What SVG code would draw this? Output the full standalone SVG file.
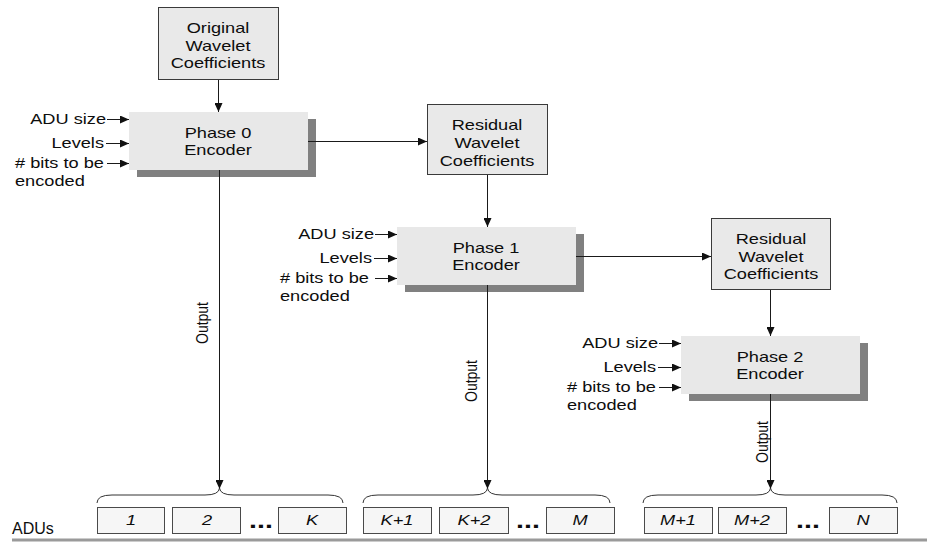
<svg xmlns="http://www.w3.org/2000/svg" width="927" height="542" viewBox="0 0 927 542">
<defs>
<marker id="ah" markerWidth="9" markerHeight="8" refX="9" refY="4" orient="auto" markerUnits="userSpaceOnUse"><path d="M0,0 L9,4 L0,8 z" fill="#111"/></marker>
<style>
text{font-family:"Liberation Sans",Arial,sans-serif;font-size:14px;fill:#0d0d0d}
.c{text-anchor:middle}
.e{text-anchor:end}
.it{font-style:italic}
.dots{font-weight:bold;font-size:22px;text-anchor:middle}
.lbl{font-size:16px}
.src{fill:#e9e9e9;stroke:#3a3a3a;stroke-width:1}
.enc{fill:#e8e8e8}
.sh{fill:#808080}
.adu{fill:#f6f6f6;stroke:#4a4a4a;stroke-width:1}
.cn{stroke:#1a1a1a;stroke-width:1;fill:none;marker-end:url(#ah)}
.br{stroke:#333;stroke-width:1;fill:none}
</style>
</defs>
<rect width="927" height="542" fill="#fff"/>

<g id="original">
<rect class="src" x="158.5" y="7.5" width="120" height="72"/>
<text class="c" transform="translate(218,33) scale(1.3,1)">Original</text>
<text class="c" transform="translate(218,51) scale(1.3,1)">Wavelet</text>
<text class="c" transform="translate(218,68) scale(1.3,1)">Coefficients</text>
</g>

<g id="phase0">
<rect class="sh" x="137" y="119" width="179" height="58"/>
<rect class="enc" x="129" y="112" width="179" height="58"/>
<text class="c" transform="translate(218,138) scale(1.3,1)">Phase 0</text>
<text class="c" transform="translate(218,155) scale(1.3,1)">Encoder</text>
<text class="e" transform="translate(106,124) scale(1.3,1)">ADU size</text>
<text class="e" transform="translate(104,148) scale(1.3,1)">Levels</text>
<text transform="translate(15,168) scale(1.3,1)"># bits to be</text>
<text transform="translate(15,186) scale(1.3,1)">encoded</text>
</g>

<g id="residual1">
<rect class="src" x="427.5" y="104.5" width="120" height="70"/>
<text class="c" transform="translate(487,130) scale(1.3,1)">Residual</text>
<text class="c" transform="translate(487,148) scale(1.3,1)">Wavelet</text>
<text class="c" transform="translate(487,166) scale(1.3,1)">Coefficients</text>
</g>

<g id="phase1">
<rect class="sh" x="405" y="234" width="179" height="58"/>
<rect class="enc" x="397" y="227" width="179" height="58"/>
<text class="c" transform="translate(486,253) scale(1.3,1)">Phase 1</text>
<text class="c" transform="translate(486,270) scale(1.3,1)">Encoder</text>
<text class="e" transform="translate(374,239) scale(1.3,1)">ADU size</text>
<text class="e" transform="translate(372,263) scale(1.3,1)">Levels</text>
<text transform="translate(280,283) scale(1.3,1)"># bits to be</text>
<text transform="translate(280,301) scale(1.3,1)">encoded</text>
</g>

<g id="residual2">
<rect class="src" x="711.5" y="218.5" width="119" height="71"/>
<text class="c" transform="translate(771,244) scale(1.3,1)">Residual</text>
<text class="c" transform="translate(771,262) scale(1.3,1)">Wavelet</text>
<text class="c" transform="translate(771,279) scale(1.3,1)">Coefficients</text>
</g>

<g id="phase2">
<rect class="sh" x="689" y="343" width="179" height="58"/>
<rect class="enc" x="681" y="336" width="179" height="58"/>
<text class="c" transform="translate(770,362) scale(1.3,1)">Phase 2</text>
<text class="c" transform="translate(770,379) scale(1.3,1)">Encoder</text>
<text class="e" transform="translate(658,348) scale(1.3,1)">ADU size</text>
<text class="e" transform="translate(656,372) scale(1.3,1)">Levels</text>
<text transform="translate(567,392) scale(1.3,1)"># bits to be</text>
<text transform="translate(567,410) scale(1.3,1)">encoded</text>
</g>

<g id="connectors">
<line class="cn" x1="218.5" y1="80" x2="218.5" y2="112"/>
<line class="cn" x1="308" y1="141.5" x2="427" y2="141.5"/>
<line class="cn" x1="487.5" y1="175" x2="487.5" y2="227"/>
<line class="cn" x1="576" y1="256.5" x2="711" y2="256.5"/>
<line class="cn" x1="770.5" y1="290" x2="770.5" y2="336"/>
<line class="cn" x1="107" y1="119.5" x2="129" y2="119.5"/>
<line class="cn" x1="106" y1="143.5" x2="129" y2="143.5"/>
<line class="cn" x1="107" y1="163.5" x2="129" y2="163.5"/>
<line class="cn" x1="375" y1="234.5" x2="397" y2="234.5"/>
<line class="cn" x1="374" y1="258.5" x2="397" y2="258.5"/>
<line class="cn" x1="375" y1="278.5" x2="397" y2="278.5"/>
<line class="cn" x1="659" y1="343.5" x2="681" y2="343.5"/>
<line class="cn" x1="658" y1="367.5" x2="681" y2="367.5"/>
<line class="cn" x1="659" y1="387.5" x2="681" y2="387.5"/>
<line class="cn" x1="219.5" y1="170" x2="219.5" y2="489"/>
<line class="cn" x1="487.5" y1="285" x2="487.5" y2="489"/>
<line class="cn" x1="770.5" y1="394" x2="770.5" y2="489"/>
<text class="c" transform="translate(208,323) scale(1.15,1) rotate(-90)">Output</text>
<text class="c" transform="translate(477,381) scale(1.15,1) rotate(-90)">Output</text>
<text class="c" transform="translate(768,442) scale(1.15,1) rotate(-90)">Output</text>
</g>

<g id="adus">
<path class="br" d="M97,503 Q97,495 112,495 L205,495 Q219,495 219.5,488 Q220,495 234,495 L328,495 Q343,495 343,503"/>
<path class="br" d="M363,503 Q363,495 378,495 L473,495 Q487,495 487.5,488 Q488,495 502,495 L595,495 Q610,495 610,503"/>
<path class="br" d="M643,503 Q643,495 658,495 L756,495 Q770,495 770.5,488 Q771,495 785,495 L882,495 Q897,495 897,503"/>
<rect class="adu" x="97.5" y="507.5" width="67" height="26"/>
<rect class="adu" x="172.5" y="507.5" width="68" height="26"/>
<rect class="adu" x="278.5" y="507.5" width="68" height="26"/>
<rect class="adu" x="363.5" y="507.5" width="68" height="26"/>
<rect class="adu" x="439.5" y="507.5" width="69" height="26"/>
<rect class="adu" x="546.5" y="507.5" width="68" height="26"/>
<rect class="adu" x="644.5" y="507.5" width="68" height="26"/>
<rect class="adu" x="718.5" y="507.5" width="68" height="26"/>
<rect class="adu" x="829.5" y="507.5" width="68" height="26"/>
<text class="c it" transform="translate(131,525) scale(1.3,1)">1</text>
<text class="c it" transform="translate(207,525) scale(1.3,1)">2</text>
<text class="c it" transform="translate(312,525) scale(1.3,1)">K</text>
<text class="c it" transform="translate(397,525) scale(1.3,1)">K+1</text>
<text class="c it" transform="translate(474,525) scale(1.3,1)">K+2</text>
<text class="c it" transform="translate(580,525) scale(1.3,1)">M</text>
<text class="c it" transform="translate(678,525) scale(1.3,1)">M+1</text>
<text class="c it" transform="translate(752,525) scale(1.3,1)">M+2</text>
<text class="c it" transform="translate(863,525) scale(1.3,1)">N</text>
<text class="dots" transform="translate(261,528) scale(1.3,1)">...</text>
<text class="dots" transform="translate(528,528) scale(1.3,1)">...</text>
<text class="dots" transform="translate(808,528) scale(1.3,1)">...</text>
<text class="lbl" transform="translate(12,534)">ADUs</text>
<line x1="12" y1="540" x2="927" y2="540" stroke="#9a9a9a" stroke-width="3"/>
</g>
</svg>
